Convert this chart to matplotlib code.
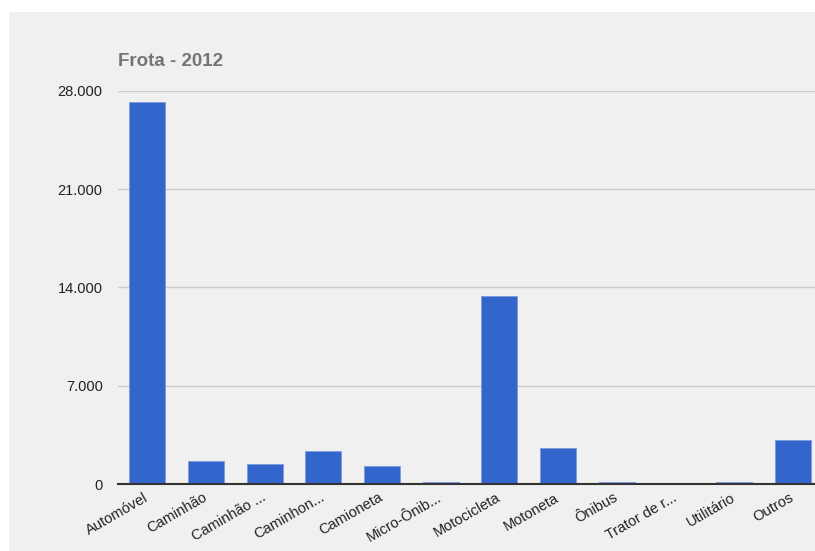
import matplotlib
matplotlib.use("Agg")
import matplotlib.pyplot as plt
from matplotlib.patches import Rectangle
from matplotlib.ticker import FuncFormatter

categories = ["Automóvel", "Caminhão", "Caminhão ...", "Caminhon...", "Camioneta",
              "Micro-Ônib...", "Motocicleta", "Motoneta", "Ônibus", "Trator de r...",
              "Utilitário", "Outros"]
values = [27220, 1640, 1420, 2330, 1260, 140, 13390, 2590, 140, 10, 130, 3110]
yticks = [0, 7000, 14000, 21000, 28000]
title = "Frota - 2012"

plt.rcParams['font.family'] = ['Liberation Sans', 'DejaVu Sans']

W, H = 815, 551
fig = plt.figure(figsize=(W / 100, H / 100), dpi=100, facecolor='white')
fig.patches.append(Rectangle((9 / W, 0), 1, 1 - 12 / H, transform=fig.transFigure,
                             facecolor='#f0f0f0', edgecolor='none', zorder=-10))

left, right = 118 / W, 822 / W
bottom, top = (H - 484) / H, (H - 90.7) / H
ax = fig.add_axes([left, bottom, right - left, top - bottom])
ax.set_facecolor('none')

x = list(range(len(categories)))
ax.bar(x, values, width=0.61, color='#3366cc', edgecolor='#7a9be0', linewidth=0.6, zorder=3)
ax.set_xlim(-0.5, len(categories) - 0.5)
ax.set_ylim(0, 28000)
ax.set_yticks(yticks)
ax.yaxis.set_major_formatter(FuncFormatter(lambda v, p: "0" if v == 0 else f"{int(v):,}".replace(",", ".")))
ax.grid(axis='y', color='#cccccc', linewidth=1, zorder=0)
for s in ['top', 'right', 'left']:
    ax.spines[s].set_visible(False)
ax.spines['bottom'].set_color('#333333')
ax.spines['bottom'].set_linewidth(1.5)
ax.spines['bottom'].set_zorder(4)
ax.tick_params(axis='both', length=0, labelsize=10.5, labelcolor='#222222')
ax.tick_params(axis='y', pad=11)
ax.set_xticks(x)
ax.set_xticklabels(categories, rotation=30, ha='right', rotation_mode='anchor', va='center')
ax.tick_params(axis='x', pad=9)

fig.text(118 / W, 1 - 62 / H, title, fontsize=13.5, fontweight='bold', color='#757575',
         ha='left', va='center')

fig.savefig("out.png", dpi=100, facecolor='white')
